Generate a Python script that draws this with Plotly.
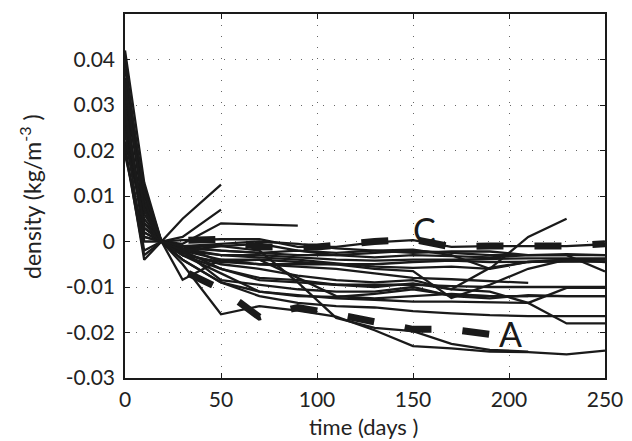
import plotly.graph_objects as go

# ---------------- data ----------------
days = [0, 10, 19, 30, 50, 70, 90, 110, 130, 150, 170, 190, 210, 230, 250]

s01 = [0.030, 0.012, 0, 0.005, 0.0125, None, None, None, None, None, None, None, None, None, None]
s02 = [0.024, 0.007, 0, 0.001, 0.007, None, None, None, None, None, None, None, None, None, None]
s03 = [0.036, 0.010, 0, -0.0005, 0.004, 0.0037, 0.0035, None, None, None, None, None, None, None, None]
s04 = [0.028, 0.002, 0, 0.0003, 0.0005, 0.0005, -0.0012, -0.0012, -0.0002, 0.0003, -0.0012, -0.001, -0.001, -0.001, -0.0006]
s05 = [0.032, 0.000, 0, -0.001, -0.002, -0.0025, -0.002, -0.0025, -0.002, -0.0018, -0.003, -0.006, 0.001, 0.005, None]
s06 = [0.020, -0.003, 0, -0.002, -0.004, -0.005, -0.0055, -0.006, -0.007, -0.008, -0.0083, -0.0087, -0.0091, None, None]
s07 = [0.025, 0.004, 0, -0.0015, -0.002, -0.0025, -0.003, -0.003, -0.0025, -0.002, -0.0025, -0.003, -0.003, -0.003, -0.003]
s08 = [0.040, 0.008, 0, -0.002, -0.003, -0.003, -0.0035, -0.004, -0.0042, -0.004, -0.004, -0.0038, -0.0037, -0.0037, -0.0037]
s09 = [0.022, 0.005, 0, -0.001, -0.0045, -0.005, -0.005, -0.005, -0.005, -0.0045, -0.0042, -0.0045, -0.0045, -0.0044, -0.0044]
s10 = [0.030, 0.003, 0, -0.002, -0.001, -0.0005, -0.002, -0.003, -0.0035, -0.003, -0.0032, -0.0035, -0.003, -0.003, -0.0066]
s11 = [0.026, 0.002, 0, -0.003, -0.006, -0.0085, -0.009, -0.0095, -0.0095, -0.0095, -0.0098, -0.010, -0.010, -0.010, -0.010]
s12 = [0.034, 0.006, 0, -0.003, -0.007, -0.011, -0.012, -0.0122, -0.0115, -0.0105, -0.0118, -0.012, -0.012, -0.012, -0.012]
s13 = [0.030, 0.004, 0, -0.004, -0.009, -0.012, -0.0135, -0.0142, -0.0145, -0.0153, -0.0158, -0.0162, -0.0164, -0.0164, -0.0164]
s14 = [0.028, 0.001, 0, -0.004, -0.009, -0.011, -0.0118, -0.0125, -0.0128, -0.0132, -0.0132, -0.0133, -0.0135, -0.018, -0.018]
s15 = [0.042, 0.013, 0, -0.005, -0.016, -0.0142, -0.0152, -0.0165, -0.0195, -0.023, -0.0235, -0.0242, -0.0243, -0.0248, -0.024]
s16 = [0.027, 0.004, 0, -0.001, -0.001, -0.002, -0.009, -0.0168, -0.019, -0.0197, -0.0225, -0.0238, -0.0242, None, None]
s17 = [0.021, -0.004, 0, -0.0084, -0.004, -0.004, -0.0045, -0.005, -0.006, -0.0065, -0.0124, -0.0095, -0.006, -0.004, -0.004]
s18 = [0.033, 0.009, 0, -0.002, -0.006, -0.008, -0.0085, -0.0095, -0.010, -0.0092, -0.0105, -0.011, -0.0135, -0.0102, -0.0102]
s19 = [0.038, 0.011, 0, -0.0025, -0.005, -0.006, -0.0075, -0.0085, -0.009, -0.0085, -0.0105, -0.0058, -0.0045, -0.0040, None]
s20 = [0.019, 0.001, 0, -0.003, -0.0045, -0.004, -0.008, -0.012, -0.0125, -0.012, -0.0115, -0.012, -0.012, None, None]
s21 = [0.029, 0.003, 0, -0.0015, -0.003, -0.0035, -0.004, -0.0048, -0.0055, -0.0058, -0.0055, -0.006, -0.0045, -0.004, -0.0045]
s22 = [0.024, -0.002, 0, -0.002, -0.0085, -0.0095, -0.0105, -0.011, -0.011, -0.010, -0.012, -0.0125, -0.0118, -0.012, -0.012]
s23 = [0.035, 0.007, 0, -0.001, -0.0005, 0.000, -0.0005, -0.0015, -0.002, -0.0025, -0.0022, -0.0022, -0.003, -0.0028, -0.003]

solid_series = [s01, s02, s03, s04, s05, s06, s07, s08, s09, s10, s11, s12,
                s13, s14, s15, s16, s17, s18, s19, s20, s21, s22, s23]

c_days = [33, 50, 70, 100, 130, 150, 170, 190, 230, 250]
c_vals = [0.0003, 0.0005, -0.0012, -0.0012, 0.0, 0.0005, -0.0012, -0.001, -0.001, -0.0005]

a_days = [33, 50, 60, 70, 75, 90, 110, 130, 150, 170, 190, 200]
a_vals = [-0.007, -0.0105, -0.0135, -0.0166, -0.016, -0.0145, -0.016, -0.0178, -0.0193, -0.0193, -0.0204, -0.0175]

x_ticks = [0, 50, 100, 150, 200, 250]
y_ticks = [-0.03, -0.02, -0.01, 0, 0.01, 0.02, 0.03, 0.04]
y_ticktext = ["-0.03", "-0.02", "-0.01", "0", "0.01", "0.02", "0.03", "0.04"]

# ---------------- figure ----------------
FONT = "Lato"
INK = "#1a1a1a"

fig = go.Figure()
for s in solid_series:
    fig.add_trace(go.Scatter(x=days, y=s, mode="lines",
                             line=dict(color=INK, width=2.3),
                             connectgaps=False, showlegend=False, hoverinfo="skip"))

fig.add_trace(go.Scatter(x=c_days, y=c_vals, mode="lines",
                         line=dict(color=INK, width=7, dash="27px,31px"),
                         showlegend=False, hoverinfo="skip"))
fig.add_trace(go.Scatter(x=a_days, y=a_vals, mode="lines",
                         line=dict(color=INK, width=7, dash="27px,31px"),
                         showlegend=False, hoverinfo="skip"))

fig.add_annotation(x=156, y=0.0026, xref="x", yref="y", text="C", showarrow=False,
                   xanchor="center", yanchor="middle",
                   font=dict(family=FONT, size=34, color=INK))
fig.add_annotation(x=201, y=-0.0203, xref="x", yref="y", text="A", showarrow=False,
                   xanchor="center", yanchor="middle",
                   font=dict(family=FONT, size=34, color=INK))

fig.add_annotation(x=0.497, y=-0.133, xref="paper", yref="paper",
                   text="time (days )", showarrow=False,
                   xanchor="center", yanchor="middle",
                   font=dict(family=FONT, size=22, color="#222"))
fig.add_annotation(x=-0.198, y=0.5, xref="paper", yref="paper",
                   text="density (kg/m<sup>-3</sup> )", textangle=-90, showarrow=False,
                   xanchor="center", yanchor="middle",
                   font=dict(family=FONT, size=23, color="#222"))

axis_common = dict(
    showline=True, linecolor=INK, linewidth=1.5, mirror="ticks",
    ticks="inside", ticklen=5, tickcolor=INK, tickwidth=1.2,
    showgrid=True, gridcolor="#666", griddash="1px,10px", gridwidth=1.3,
    zeroline=False, tickfont=dict(family=FONT, size=21, color="#222"),
)

fig.update_xaxes(range=[0, 250], tickvals=x_ticks, ticklabelstandoff=2, **axis_common)
fig.update_yaxes(range=[-0.03, 0.05], tickvals=y_ticks, ticktext=y_ticktext,
                 ticklabelstandoff=4, **axis_common)

# the page body adds an 8px offset, so margins are reduced accordingly
fig.update_layout(
    width=624, height=433,
    margin=dict(l=117, r=27, t=4, b=63),
    paper_bgcolor="white", plot_bgcolor="white",
)

fig.write_html("out.html")
